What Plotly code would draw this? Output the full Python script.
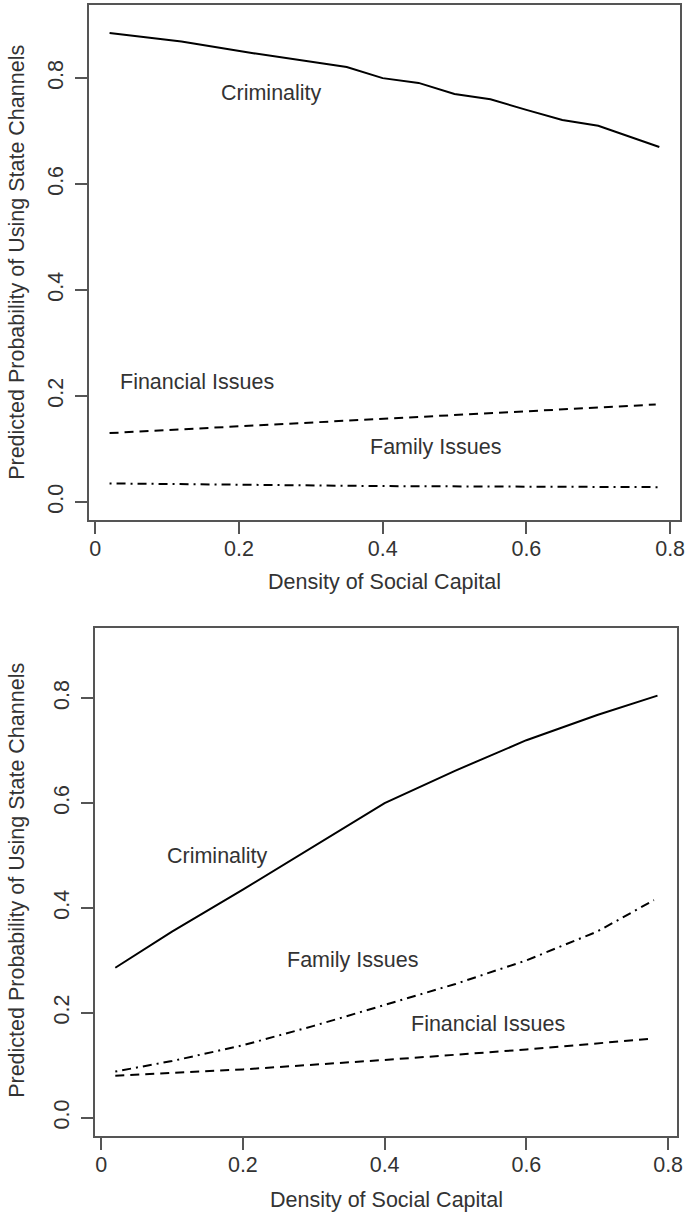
import plotly.graph_objects as go

# ---------------- data ----------------
# Panel 1 (top)
top_crim_x = [0.02, 0.12, 0.22, 0.35, 0.40, 0.45, 0.50, 0.55, 0.60, 0.65, 0.70, 0.785]
top_crim_y = [0.885, 0.869, 0.847, 0.821, 0.800, 0.791, 0.770, 0.760, 0.740, 0.721, 0.710, 0.670]
top_fin_x = [0.02, 0.40, 0.78]
top_fin_y = [0.130, 0.157, 0.184]
top_fam_x = [0.02, 0.40, 0.785]
top_fam_y = [0.035, 0.030, 0.028]

# Panel 2 (bottom)
bot_crim_x = [0.02, 0.10, 0.20, 0.30, 0.40, 0.50, 0.60, 0.70, 0.785]
bot_crim_y = [0.286, 0.355, 0.435, 0.518, 0.600, 0.662, 0.720, 0.768, 0.805]
bot_fam_x = [0.02, 0.10, 0.20, 0.30, 0.40, 0.50, 0.60, 0.70, 0.78]
bot_fam_y = [0.088, 0.108, 0.138, 0.175, 0.215, 0.255, 0.300, 0.355, 0.415]
bot_fin_x = [0.02, 0.20, 0.40, 0.60, 0.78]
bot_fin_y = [0.080, 0.092, 0.110, 0.130, 0.151]

x_tickvals = [0, 0.2, 0.4, 0.6, 0.8]
x_ticktext = ["0", "0.2", "0.4", "0.6", "0.8"]
y_tickvals = [0, 0.2, 0.4, 0.6, 0.8]
y_ticktext = ["0.0", "0.2", "0.4", "0.6", "0.8"]

x_title = "Density of Social Capital"
y_title = "Predicted Probability of Using State Channels"

# label positions (data coords)
top_labels = [("Criminality", 0.2455, 0.772), ("Financial Issues", 0.142, 0.227), ("Family Issues", 0.473, 0.104)]
bot_labels = [("Criminality", 0.164, 0.500), ("Family Issues", 0.355, 0.300), ("Financial Issues", 0.546, 0.178)]

# ---------------- figure ----------------
W, H = 689, 1214
FONT = "Liberation Sans, Arial, Helvetica, sans-serif"
TXT = "#333333"
BOX = "#555555"
FS = 21.5

SOLID = "solid"
DASH = "9px,6px"
DOTDASH = "2px,5px,9px,5px"

fig = go.Figure()

def add_line(x, y, dash, xa, ya):
    fig.add_trace(go.Scatter(x=x, y=y, mode="lines", xaxis=xa, yaxis=ya,
                             line=dict(color="black", width=2, dash=dash),
                             showlegend=False, hoverinfo="skip"))

add_line(top_crim_x, top_crim_y, SOLID, "x", "y")
add_line(top_fin_x, top_fin_y, DASH, "x", "y")
add_line(top_fam_x, top_fam_y, DOTDASH, "x", "y")
add_line(bot_crim_x, bot_crim_y, SOLID, "x2", "y2")
add_line(bot_fam_x, bot_fam_y, DOTDASH, "x2", "y2")
add_line(bot_fin_x, bot_fin_y, DASH, "x2", "y2")

def px_x(p):
    return p / W

def px_y(p):
    return 1 - p / H

common_axis = dict(showline=True, mirror=True, linecolor=BOX, linewidth=1.5,
                   ticks="outside", ticklen=12, tickwidth=1.5, tickcolor=BOX,
                   showgrid=False, zeroline=False,
                   tickfont=dict(size=FS, color=TXT, family=FONT))

fig.update_layout(
    width=W, height=H,
    margin=dict(l=0, r=0, t=0, b=0),
    paper_bgcolor="white", plot_bgcolor="white",
    font=dict(family=FONT, size=FS, color=TXT),
    xaxis=dict(domain=[px_x(90), px_x(686)], anchor="y", range=[-0.0083, 0.8138],
               tickvals=x_tickvals, ticktext=x_ticktext, ticklabelstandoff=-4, **common_axis),
    yaxis=dict(domain=[px_y(520), px_y(5)], anchor="x", range=[-0.034, 0.938],
               tickvals=y_tickvals, ticktext=y_ticktext, tickangle=-90, ticklabelstandoff=4, **common_axis),
    xaxis2=dict(domain=[px_x(96), px_x(683)], anchor="y2", range=[-0.0084, 0.8126],
                tickvals=x_tickvals, ticktext=x_ticktext, ticklabelstandoff=-4, **common_axis),
    yaxis2=dict(domain=[px_y(1136), px_y(628)], anchor="x2", range=[-0.035, 0.934],
                tickvals=y_tickvals, ticktext=y_ticktext, tickangle=-90, ticklabelstandoff=4, **common_axis),
)

annotations = []
for text, x, y in top_labels:
    annotations.append(dict(text=text, x=x, y=y, xref="x", yref="y", showarrow=False,
                            xanchor="center", yanchor="middle",
                            font=dict(size=FS, color=TXT, family=FONT)))
for text, x, y in bot_labels:
    annotations.append(dict(text=text, x=x, y=y, xref="x2", yref="y2", showarrow=False,
                            xanchor="center", yanchor="middle",
                            font=dict(size=FS, color=TXT, family=FONT)))

# axis titles
annotations.append(dict(text=x_title, x=px_x(388), y=px_y(582), xref="paper", yref="paper",
                        showarrow=False, xanchor="center", yanchor="middle",
                        font=dict(size=FS, color=TXT, family=FONT)))
annotations.append(dict(text=x_title, x=px_x(390), y=px_y(1200), xref="paper", yref="paper",
                        showarrow=False, xanchor="center", yanchor="middle",
                        font=dict(size=FS, color=TXT, family=FONT)))
annotations.append(dict(text=y_title, x=px_x(17), y=px_y(262), xref="paper", yref="paper",
                        showarrow=False, xanchor="center", yanchor="middle", textangle=-90,
                        font=dict(size=FS, color=TXT, family=FONT)))
annotations.append(dict(text=y_title, x=px_x(17), y=px_y(880), xref="paper", yref="paper",
                        showarrow=False, xanchor="center", yanchor="middle", textangle=-90,
                        font=dict(size=FS, color=TXT, family=FONT)))

fig.update_layout(annotations=annotations)

fig.write_html(
    "out.html",
    config={"displayModeBar": False},
    post_script="document.body.style.margin='0';document.body.style.padding='0';document.body.style.overflow='hidden';",
)
